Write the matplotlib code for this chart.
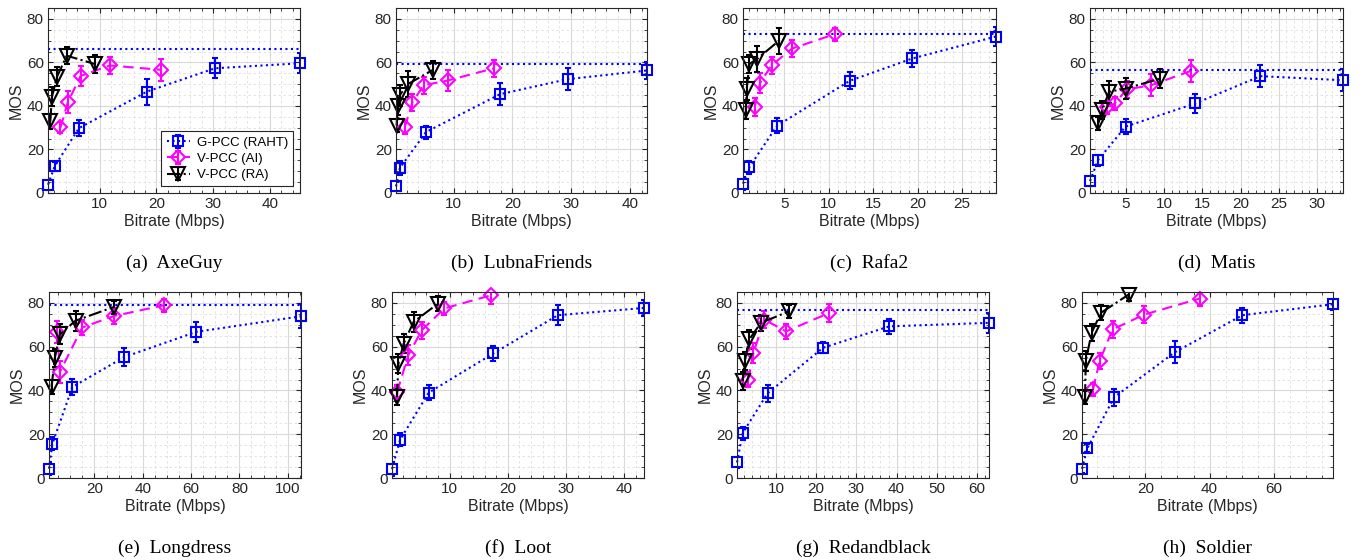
import matplotlib
matplotlib.use('Agg')
import matplotlib.pyplot as plt
from matplotlib.ticker import AutoMinorLocator, MultipleLocator

plt.rcParams['font.family'] = ['Liberation Sans', 'DejaVu Sans']

# contenidos: 8 secuencias, MOS vs bitrate
nombres = ['(a)  AxeGuy', '(b)  LubnaFriends', '(c)  Rafa2', '(d)  Matis',
           '(e)  Longdress', '(f)  Loot', '(g)  Redandblack', '(h)  Soldier']

# G-PCC (RAHT)
g_x = [[0.9, 2.06, 6.35, 18.35, 30.3, 45.3],
       [0.2, 0.86, 5.3, 17.9, 29.4, 42.9],
       [0.38, 1.1, 4.2, 12.4, 19.4, 28.8],
       [0.3, 1.35, 4.95, 14.1, 22.6, 33.4],
       [1.2, 2.6, 10.9, 32.4, 62.2, 105.5],
       [0.1, 1.5, 6.4, 17.5, 28.6, 43.4],
       [0.3, 1.7, 7.9, 21.7, 38.2, 63.0],
       [0.3, 2.0, 10.3, 29.1, 50.2, 78.4]]
g_y = [[3.8, 12.2, 29.8, 46.6, 57.3, 59.6],
       [3.0, 11.5, 28.0, 45.4, 52.3, 56.3],
       [4.3, 11.9, 30.9, 51.6, 61.8, 71.9],
       [5.5, 15.1, 30.5, 41.2, 53.7, 51.8],
       [4.3, 15.7, 41.6, 55.3, 66.8, 73.9],
       [4.1, 17.5, 39.0, 56.9, 74.4, 77.7],
       [7.1, 20.5, 38.7, 59.5, 69.3, 70.9],
       [4.2, 13.7, 36.9, 57.4, 74.4, 79.4]]
g_e = [[2.3, 2, 3.8, 6, 4.5, 4.5],
       [2, 3, 3, 5, 5, 4],
       [3, 3, 3.5, 4, 4, 4.5],
       [2.5, 2.5, 3.5, 4.5, 5, 5],
       [3, 3, 3.5, 4, 4.5, 5.5],
       [3, 3, 3.5, 3.5, 4.5, 3.5],
       [2.5, 3, 4, 2.5, 3.5, 4.5],
       [2, 2, 4, 5, 3.5, 2.5]]

# V-PCC (AI)
ai_x = [[3.1, 4.4, 6.65, 11.8, 20.8],
        [1.7, 3.0, 4.9, 9.0, 16.9],
        [1.7, 2.3, 3.6, 5.9, 10.7],
        [2.55, 3.55, 5.1, 8.3, 13.5],
        [4.6, 5.7, 15.0, 28.0, 49.0],
        [1.0, 2.9, 5.2, 9.1, 17.1],
        [3.1, 4.4, 7.1, 12.5, 23.2],
        [3.75, 5.8, 9.8, 19.7, 36.9]]
ai_y = [[30.1, 41.7, 53.8, 58.6, 56.6],
        [30.3, 41.7, 49.5, 51.7, 57.3],
        [39.5, 50.6, 58.7, 66.4, 73.0],
        [39.5, 41.2, 47.6, 49.5, 56.1],
        [66.9, 48.5, 68.8, 74.0, 79.0],
        [39.5, 56.1, 67.5, 77.5, 83.5],
        [45.0, 57.2, 72.4, 67.0, 75.4],
        [40.6, 53.5, 67.9, 74.7, 82.0]]
ai_e = [[2.5, 5, 4.5, 4, 5],
        [3, 4, 4, 5, 4],
        [4, 4.5, 4, 4, 3],
        [3, 3, 4, 5, 5],
        [5, 5, 3.5, 3.5, 3],
        [3, 4.5, 4, 3, 4],
        [3.5, 4.5, 4, 3.5, 4],
        [3, 3.5, 4, 4, 3.5]]

# V-PCC (RA)
ra_x = [[1.3, 1.6, 2.5, 4.2, 9.1],
        [0.3, 0.5, 0.8, 2.2, 6.5],
        [0.7, 0.8, 1.1, 2.0, 4.4],
        [1.4, 1.9, 2.8, 5.0, 9.5],
        [2.25, 3.6, 5.7, 12.2, 27.9],
        [0.95, 1.2, 2.1, 3.8, 8.0],
        [1.67, 2.25, 3.33, 6.25, 13.3],
        [1.25, 1.47, 3.3, 6.2, 14.8]]
ra_y = [[32.9, 44.3, 53.5, 63.1, 59.3],
        [31.0, 39.8, 44.8, 50.0, 56.6],
        [38.0, 47.9, 59.3, 61.7, 69.9],
        [32.0, 38.1, 46.5, 48.0, 52.6],
        [41.6, 54.8, 65.7, 71.9, 78.1],
        [37.0, 52.3, 61.4, 71.3, 79.7],
        [44.3, 53.4, 63.3, 70.9, 76.2],
        [36.8, 53.5, 66.4, 75.5, 83.8]]
ra_e = [[3.5, 4.5, 4.5, 4, 4],
        [3, 4, 5, 6, 4],
        [4, 5, 4, 6, 6],
        [3, 4, 5, 5, 4.5],
        [3, 4, 4.5, 4.5, 3],
        [3.5, 4.5, 4.5, 4.5, 3.5],
        [4, 4, 4.5, 3.5, 3],
        [3, 4.5, 4, 3.5, 3]]

# MOS de referencia (linea horizontal)
mos_ref = [66.1, 59.2, 73.0, 56.3, 79.0, 85.0, 76.9, 85.0]

# separacion de ticks del eje x
paso_x = [10, 10, 5, 5, 20, 10, 10, 20]

# posiciones de los ejes en pixeles: (izq, der, arriba, abajo)
pos_px = [(48, 300, 8, 193), (396, 647, 8, 193), (743, 996, 8, 193), (1090, 1343, 8, 193),
          (49, 301, 292, 478), (392, 644, 292, 478), (737, 989, 292, 478), (1082, 1333, 292, 478)]

W, H = 1359, 560
fig = plt.figure(figsize=(W / 100, H / 100), dpi=100)
gris = '#262626'

for i in range(8):
    l, r, t, b = pos_px[i]
    ax = fig.add_axes([l / W, 1 - b / H, (r - l) / W, (b - t) / H])
    series = [(g_x[i], g_y[i], g_e[i], 'blue', ':', 's', 6.5, 'G-PCC (RAHT)'),
              (ai_x[i], ai_y[i], ai_e[i], 'magenta', (0, (5, 3)), 'D', 7.5, 'V-PCC (AI)'),
              (ra_x[i], ra_y[i], ra_e[i], 'black', '-.', 'v', 10, 'V-PCC (RA)')]
    for x, y, e, c, ls, mk, ms, lab in series:
        cont = ax.errorbar(x, y, yerr=e, color=c, ls=ls, lw=1.5, marker=mk, ms=ms,
                           mfc='none', mew=1.5, capsize=2.5, elinewidth=1.5, label=lab)
        cont[0].set_clip_on(False)   # marcadores sin recortar en el borde
    ax.axhline(mos_ref[i], color='blue', ls=':', lw=1.5)

    ax.set_xlim(min(g_x[i]), max(g_x[i]))
    ax.set_ylim(0, 85)
    ax.xaxis.set_major_locator(MultipleLocator(paso_x[i]))
    ax.yaxis.set_major_locator(MultipleLocator(20))
    ax.xaxis.set_minor_locator(AutoMinorLocator())
    ax.yaxis.set_minor_locator(AutoMinorLocator())
    ax.grid(which='major', color='#d9d9d9', lw=0.8)
    ax.grid(which='minor', color='#dedede', lw=0.6, ls=(0, (3, 3)))
    ax.set_axisbelow(True)
    ax.tick_params(which='both', direction='in', top=True, right=True,
                   colors=gris, labelsize=11, pad=3)
    ax.tick_params(which='major', length=3.5)
    ax.tick_params(which='minor', length=2)
    for s in ax.spines.values():
        s.set_color(gris)
        s.set_linewidth(0.8)
    ax.set_xlabel('Bitrate (Mbps)', fontsize=11.5, color=gris, labelpad=2)
    ax.set_ylabel('MOS', fontsize=11.5, color=gris, labelpad=2)

    if i == 0:
        leg = ax.legend(loc='lower right', fontsize=9.5, fancybox=False,
                        framealpha=1, edgecolor=gris, handlelength=1.8,
                        handletextpad=0.5, borderaxespad=0.5, labelspacing=0.3)
        leg.get_frame().set_linewidth(0.8)

    fig.text((l + r) / 2 / W, 1 - (b + 70) / H, nombres[i], ha='center', va='center',
             fontsize=14, family='Liberation Serif')

fig.savefig('out.png', dpi=100)
